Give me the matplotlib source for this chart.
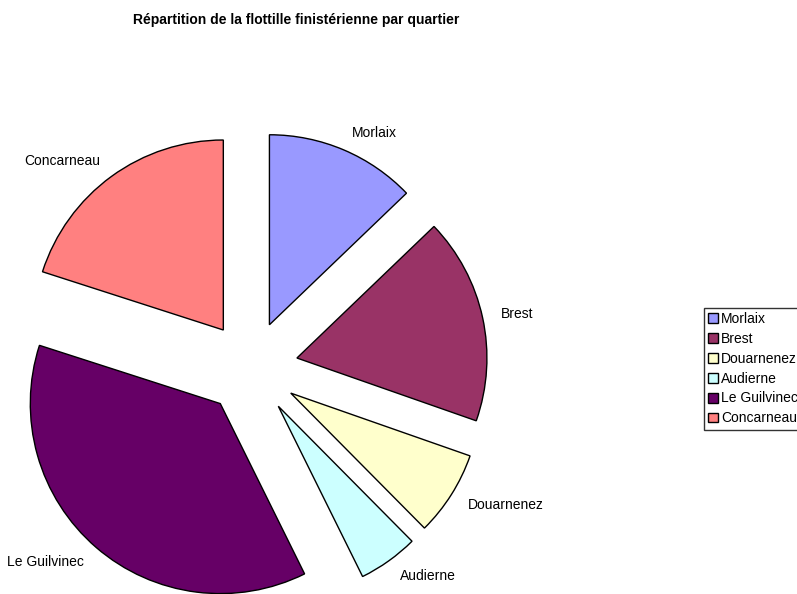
import numpy as np
import matplotlib.pyplot as plt

plt.rcParams['font.family'] = ['Liberation Sans', 'DejaVu Sans']

quartiers = ['Morlaix', 'Brest', 'Douarnenez', 'Audierne', 'Le Guilvinec', 'Concarneau']
valeurs = [12.8, 17.5, 7.2, 5.1, 37.2, 20.0]
couleurs = ['#9999FF', '#993366', '#FFFFCC', '#CCFFFF', '#660066', '#FF8080']

fig = plt.figure(figsize=(7.97, 5.94), dpi=100)
ax = fig.add_axes([0, 0, 1, 1])

# explode is in data units here (pixels)
wedges, texts = ax.pie(valeurs, labels=quartiers, colors=couleurs,
                       startangle=90, counterclock=False,
                       explode=[47] * len(valeurs),
                       center=(251, 226), radius=190,
                       labeldistance=1.1,
                       wedgeprops=dict(edgecolor='black', linewidth=1),
                       textprops=dict(fontsize=10))
# left side labels hang to the left of their anchor
for w, t in zip(wedges, texts):
    mid = np.deg2rad((w.theta1 + w.theta2) / 2)
    t.set_ha('left' if np.cos(mid) >= 0 else 'right')

ax.set_xlim(0, 797)
ax.set_ylim(0, 594)
ax.set_aspect('equal')
ax.axis('off')

fig.text(296 / 797, 1 - 20 / 594, 'Répartition de la flottille finistérienne par quartier',
         ha='center', va='center', fontsize=10, fontweight='bold')

leg = fig.legend(wedges, quartiers, loc='upper left',
                 bbox_to_anchor=(704 / 797, 1 - 308 / 594),
                 fontsize=10, frameon=True, fancybox=False,
                 handlelength=0.7, handleheight=0.7, handletextpad=0.25,
                 labelspacing=0.42, borderpad=0.3, borderaxespad=0)
leg.get_frame().set_edgecolor('black')
leg.get_frame().set_linewidth(1)

fig.savefig('out.png', dpi=100)
